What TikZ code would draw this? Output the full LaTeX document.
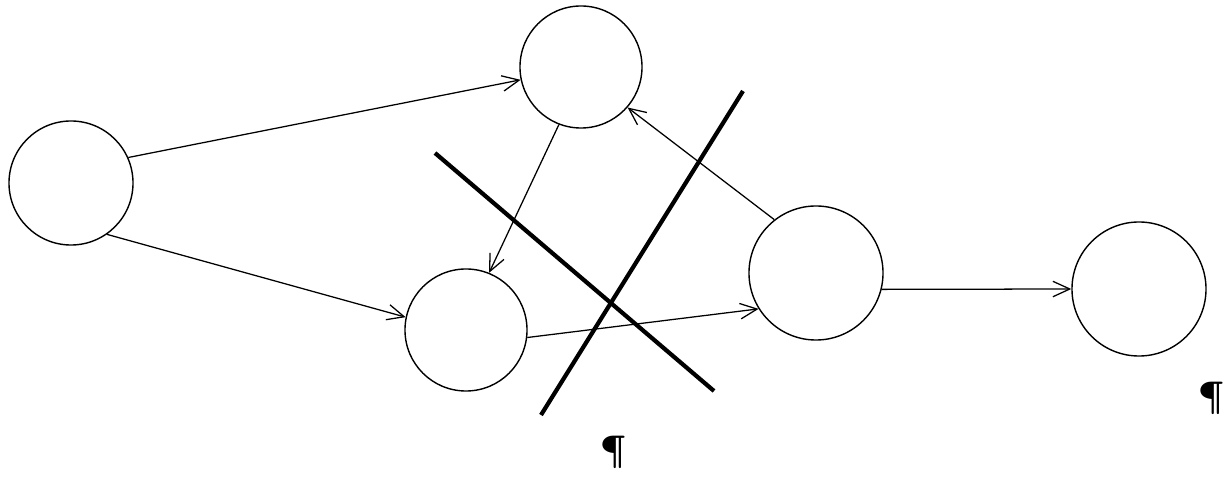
\documentclass[tikz,border=0pt]{standalone}
\usepackage{tikz}
\usetikzlibrary{arrows.meta,positioning,calc}
\tikzset{
  netnode/.style={
    circle, draw=black, fill=white, line width=1pt,
    inner sep=0pt
  },
  netsmall/.style={netnode,minimum size=3.05cm},
  netlarge/.style={netnode,minimum size=3.35cm},
  netedge/.style={-{Straight Barb[length=12pt,width=11pt]},line width=0.9pt},
  netcut/.style={line width=3pt},
  netmark/.style={font=\fontsize{26}{28}\selectfont\bfseries,inner sep=0pt}
}

\begin{document}
\begin{tikzpicture}[x=0.025cm,y=-0.025cm]
  \useasboundingbox (0,0) rectangle (1225,478);
  % nodes
  \node[netnode,minimum size=3.1cm] (src) at (71,183) {};
  \node[netsmall] (top) at (581,67) {};
  \node[netsmall] (low) at (466,330) {};
  \node[netlarge] (mid) at (816,273) {};
  \node[netlarge] (snk) at (1139,289) {};
  % edges
  \draw[netedge] (src.24) -- (top.192);
  \draw[netedge] (src.-55) -- (low.168);
  \draw[netedge] (top.-111) -- (low.68);
  \draw[netedge] (mid.128) -- (top.-41);
  \draw[netedge] (low.-7) -- (mid.-148);
  \draw[netedge] (mid.-14) -- (snk.west);
  % the cut
  \coordinate (cutA1) at (435,153);
  \coordinate (cutA2) at (714,391);
  \coordinate (cutB1) at (541,415);
  \coordinate (cutB2) at (743,91);
  \draw[netcut] (cutA1) -- (cutA2);
  \draw[netcut] (cutB1) -- (cutB2);
  % paragraph marks
  \node[netmark] (pmA) at (613,452) {\P};
  \node[netmark] (pmB) at (1211,398) {\P};
\end{tikzpicture}
\end{document}
